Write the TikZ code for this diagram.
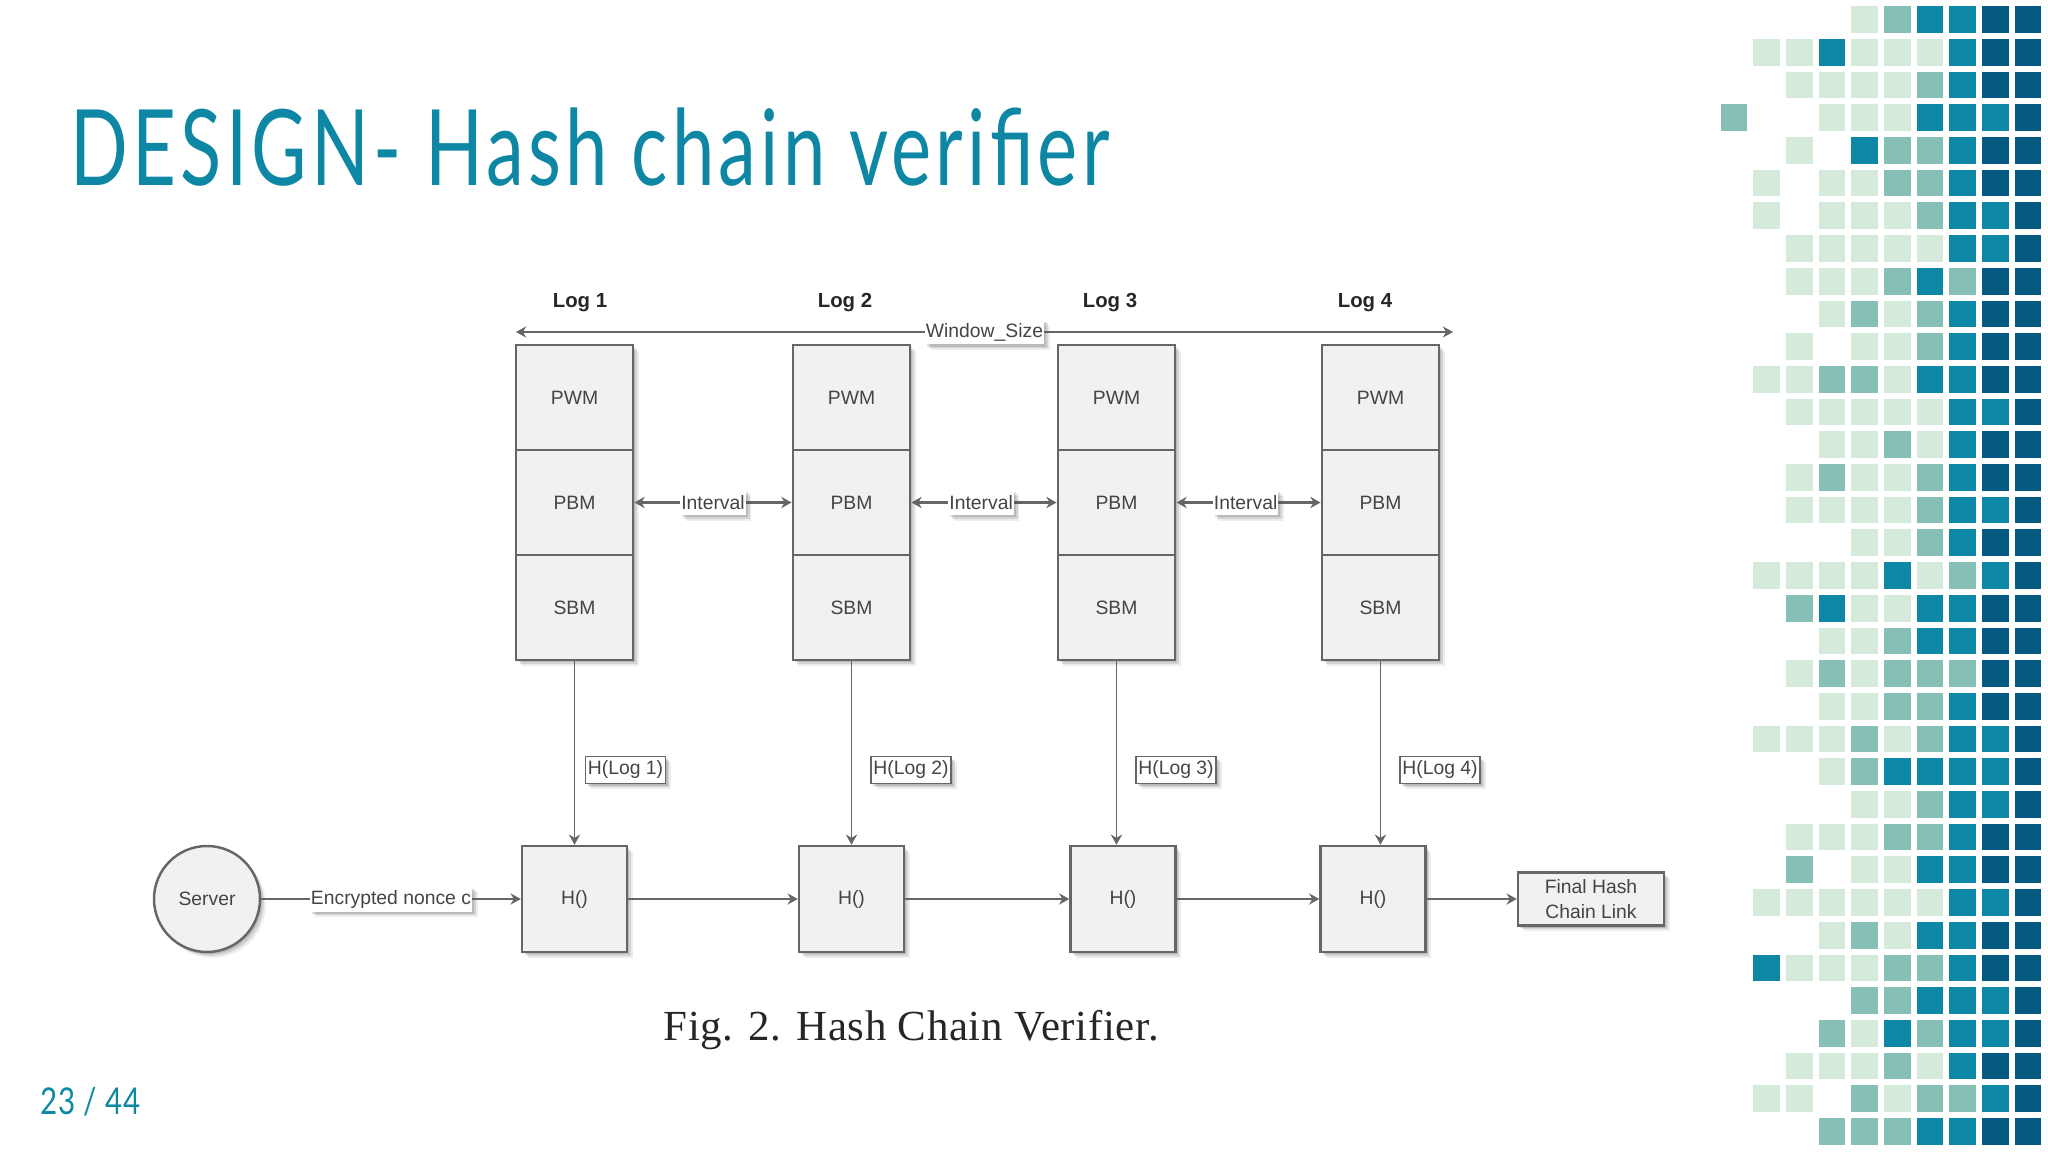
\documentclass[tikz,border=0pt]{standalone}
\usepackage{fontspec}
\setmainfont{Liberation Sans}
\newfontfamily\captionfont[LetterSpace=1.5]{Liberation Serif}
\newfontfamily\slidefont[FakeStretch=0.72,LetterSpace=4]{Lato}
\newfontfamily\pagefont[FakeStretch=0.8,LetterSpace=2]{Lato}
\usetikzlibrary{shadows,arrows.meta}
\definecolor{slideteal}{HTML}{0E87A4}
\definecolor{tilelight}{HTML}{D5EADA}
\definecolor{tilemid}{HTML}{85BFB6}
\definecolor{tiledark}{HTML}{045A80}
\definecolor{boxfill}{HTML}{F1F0F3}
\definecolor{boxline}{HTML}{666666}
\definecolor{inktext}{HTML}{444444}
\tikzset{
  softshadow/.style={
    drop shadow={shadow xshift=1.6pt, shadow yshift=-1.6pt, opacity=0.10, fill=black!70},
    drop shadow={shadow xshift=1.1pt, shadow yshift=-1.1pt, opacity=0.16, fill=black!70},
    drop shadow={shadow xshift=0.6pt, shadow yshift=-0.6pt, opacity=0.18, fill=black!70}},
  smalltext/.style={font=\fontsize{5.5}{7.1}\selectfont, text=inktext},
  blockbox/.style={rectangle, draw=boxline, line width=0.7pt, fill=boxfill, inner sep=0pt, smalltext, softshadow},
  logbox/.style={blockbox, minimum width=1.175cm, minimum height=1.05cm},
  hashbox/.style={blockbox, minimum width=1.05cm, minimum height=1.06cm},
  edgelabel/.style={rectangle, fill=white, inner xsep=0.3pt, inner ysep=0pt, minimum height=0.25cm, smalltext, softshadow},
  hashlabel/.style={rectangle, draw=boxline, line width=0.5pt, fill=white, inner sep=0pt, minimum width=0.8cm, minimum height=0.27cm, smalltext, softshadow},
  loglabel/.style={font=\bfseries\fontsize{5.8}{7}\selectfont, text=black!85},
  flowline/.style={draw=boxline, line width=0.6pt, -{Stealth[length=2.9pt, width=3.2pt]}},
  downline/.style={flowline, line width=0.5pt},
  bothline/.style={draw=boxline, line width=0.6pt, {Stealth[length=2.9pt, width=3.2pt]}-{Stealth[length=2.9pt, width=3.2pt]}},
  tileL/.style={fill=tilelight},
  tileM/.style={fill=tilemid},
  tileT/.style={fill=slideteal},
  tileD/.style={fill=tiledark},
  tilen/.style={}
}
\begin{document}
\begin{tikzpicture}
\useasboundingbox (0,0) rectangle (20.48,-11.52);
% Tile pattern on the right edge
\foreach \rowno/\cells in {
  0/{n,n,n,n,L,M,T,T,D,D}, 1/{n,L,L,T,L,L,L,T,D,D}, 2/{n,n,L,L,L,L,M,T,D,D},
  3/{M,n,n,L,L,L,T,T,T,D}, 4/{n,n,L,n,T,M,M,T,D,D}, 5/{n,L,n,L,L,M,M,T,D,D},
  6/{n,L,n,L,L,L,M,T,T,D}, 7/{n,n,L,L,L,L,L,T,T,D}, 8/{n,n,L,L,L,M,T,M,D,D},
  9/{n,n,n,L,M,L,M,T,D,D}, 10/{n,n,L,n,L,L,M,T,D,D}, 11/{n,L,L,M,M,L,T,T,D,D},
  12/{n,n,L,L,L,L,L,T,T,D}, 13/{n,n,n,L,L,M,L,T,D,D}, 14/{n,n,L,M,L,L,M,T,D,D},
  15/{n,n,L,L,L,L,M,T,T,D}, 16/{n,n,n,n,L,L,M,T,D,D}, 17/{n,L,L,L,L,T,L,M,T,D},
  18/{n,n,M,T,L,L,T,T,D,D}, 19/{n,n,n,L,L,M,T,T,D,D}, 20/{n,n,L,M,L,M,M,M,D,D},
  21/{n,n,n,L,L,M,M,T,D,D}, 22/{n,L,L,L,M,L,M,T,T,D}, 23/{n,n,n,L,M,T,T,T,T,D},
  24/{n,n,n,n,L,L,M,T,T,D}, 25/{n,n,L,L,L,M,M,T,D,D}, 26/{n,n,M,n,L,L,T,T,D,D},
  27/{n,L,L,L,L,L,L,T,T,D}, 28/{n,n,n,L,M,L,T,T,D,D}, 29/{n,T,L,L,L,M,M,T,D,D},
  30/{n,n,n,n,M,M,T,T,T,D}, 31/{n,n,n,M,L,T,M,T,T,D}, 32/{n,n,L,L,L,M,L,T,D,D},
  33/{n,L,L,n,M,L,M,M,T,D}, 34/{n,n,n,M,M,M,T,T,D,D}} {
  \foreach \cell [count=\colno from 0] in \cells {
    \path[tile\cell] (17.207+0.3265*\colno, -0.063-0.327*\rowno) rectangle ++(0.267, -0.267);
  }
}
% Slide title and page number
\node[anchor=base west, inner sep=0pt, text=slideteal, font=\slidefont\fontsize{30}{30}\selectfont] (title) at (0.70, -1.86) {DESIGN- Hash chain verifier};
\node[anchor=west, inner sep=0pt, text=slideteal, font=\pagefont\fontsize{10.5}{12}\selectfont] (pageno) at (0.40, -11.02) {23 / 44};
% Log labels
\node[loglabel] (log1) at (5.80, -3.03) {Log 1};
\node[loglabel] (log2) at (8.45, -3.03) {Log 2};
\node[loglabel] (log3) at (11.10, -3.03) {Log 3};
\node[loglabel] (log4) at (13.65, -3.03) {Log 4};
% Window arrow
\coordinate (winleft) at (5.16, -3.32);
\coordinate (winright) at (14.53, -3.32);
\draw[bothline] (winleft) -- node[edgelabel] {Window\_Size} (winright);
% Log 1 stack
\node[logbox] (pwm1) at (5.745, -3.975) {PWM};
\node[logbox] (pbm1) at (5.745, -5.025) {PBM};
\node[logbox] (sbm1) at (5.745, -6.075) {SBM};
% Log 2 stack
\node[logbox] (pwm2) at (8.515, -3.975) {PWM};
\node[logbox] (pbm2) at (8.515, -5.025) {PBM};
\node[logbox] (sbm2) at (8.515, -6.075) {SBM};
% Log 3 stack
\node[logbox] (pwm3) at (11.165, -3.975) {PWM};
\node[logbox] (pbm3) at (11.165, -5.025) {PBM};
\node[logbox] (sbm3) at (11.165, -6.075) {SBM};
% Log 4 stack
\node[logbox] (pwm4) at (13.805, -3.975) {PWM};
\node[logbox] (pbm4) at (13.805, -5.025) {PBM};
\node[logbox] (sbm4) at (13.805, -6.075) {SBM};
% Intervals between the stacks
\draw[bothline] (pbm1) -- node[edgelabel] {Interval} (pbm2);
\draw[bothline] (pbm2) -- node[edgelabel, pos=0.48] {Interval} (pbm3);
\draw[bothline] (pbm3) -- node[edgelabel, pos=0.48] {Interval} (pbm4);
% Hash row
\node[circle, draw=boxline, line width=0.7pt, fill=boxfill, minimum size=1.06cm, inner sep=0pt, smalltext, softshadow] (server) at (2.07, -8.99) {Server};
\node[hashbox] (hash1) at (5.745, -8.99) {H()};
\node[hashbox] (hash2) at (8.515, -8.99) {H()};
\node[hashbox] (hash3) at (11.23, -8.99) {H()};
\node[hashbox] (hash4) at (13.73, -8.99) {H()};
\node[blockbox, minimum width=1.46cm, minimum height=0.53cm, align=center] (final) at (15.91, -8.99) {Final Hash\\Chain Link};
% Connections from the stacks to the hash row
\draw[downline] (sbm1.south) -- (sbm1.south |- hash1.north);
\draw[downline] (sbm2.south) -- (sbm2.south |- hash2.north);
\draw[downline] (sbm3.south) -- (sbm3.south |- hash3.north);
\draw[downline] (sbm4.south) -- (sbm4.south |- hash4.north);
\node[hashlabel] (hlog1) at (6.256, -7.70) {H(Log 1)};
\node[hashlabel] (hlog2) at (9.11, -7.70) {H(Log 2)};
\node[hashlabel] (hlog3) at (11.76, -7.70) {H(Log 3)};
\node[hashlabel] (hlog4) at (14.40, -7.70) {H(Log 4)};
% Connections along the hash row
\draw[flowline] (server) -- node[edgelabel] {Encrypted nonce c} (hash1);
\draw[flowline] (hash1) -- (hash2);
\draw[flowline] (hash2) -- (hash3);
\draw[flowline] (hash3) -- (hash4);
\draw[flowline] (hash4) -- (final);
% Figure caption
\node[anchor=base west, inner sep=0pt, text=black!85, font=\captionfont\fontsize{12.2}{14}\selectfont] (caption) at (6.63, -10.40) {Fig. 2.\hspace{0.35em}Hash Chain Verifier.};
\end{tikzpicture}
\end{document}
